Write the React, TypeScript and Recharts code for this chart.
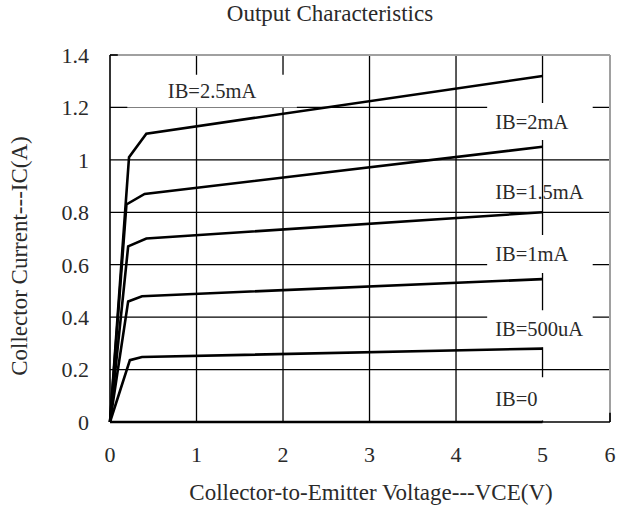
import {
  LineChart,
  Line,
  XAxis,
  YAxis,
  CartesianGrid,
  ReferenceArea,
  ReferenceLine,
} from "recharts";

// x axis of the original is squeezed past 5 V: the "6" tick sits at the frame edge
const X_MAX = 5.78;
const X_TICKS = [0, 1, 2, 3, 4, 5, X_MAX];
const X_TICK_LABELS = ["0", "1", "2", "3", "4", "5", "6"];
const Y_TICKS = [0, 0.2, 0.4, 0.6, 0.8, 1, 1.2, 1.4];
const Y_TICK_LABELS = ["0", "0.2", "0.4", "0.6", "0.8", "1", "1.2", "1.4"];

const CURVE_NAMES = ["IB=2.5mA", "IB=2mA", "IB=1.5mA", "IB=1mA", "IB=500uA", "IB=0"];

const VCE_2500 = [0, 0.22, 0.42, 5];
const IC_2500 = [0, 1.01, 1.1, 1.32];
const VCE_2000 = [0, 0.19, 0.4, 5];
const IC_2000 = [0, 0.83, 0.87, 1.05];
const VCE_1500 = [0, 0.21, 0.42, 5];
const IC_1500 = [0, 0.67, 0.7, 0.8];
const VCE_1000 = [0, 0.21, 0.37, 5];
const IC_1000 = [0, 0.46, 0.48, 0.545];
const VCE_500 = [0, 0.23, 0.37, 5];
const IC_500 = [0, 0.236, 0.248, 0.28];
const VCE_0 = [0, 5];
const IC_0 = [0, 0];

const toPoints = (vce: number[], ic: number[]) => vce.map((v, i) => ({ v, ic: ic[i] }));

const curves = [
  toPoints(VCE_2500, IC_2500),
  toPoints(VCE_2000, IC_2000),
  toPoints(VCE_1500, IC_1500),
  toPoints(VCE_1000, IC_1000),
  toPoints(VCE_500, IC_500),
  toPoints(VCE_0, IC_0),
];

// label boxes (white backgrounds hide the grid, like the original)
const labelBoxes = [
  { x1: 0.2, x2: 2.16, y1: 1.2, y2: 1.325, pos: "center", box: true },
  { x1: 4.36, x2: 5.58, y1: 1.076, y2: 1.217, pos: "insideLeft", box: true },
  { x1: 4.36, x2: 5.58, y1: 0.82, y2: 0.935, pos: "insideLeft", box: false },
  { x1: 4.36, x2: 5.58, y1: 0.568, y2: 0.713, pos: "insideLeft", box: true },
  { x1: 4.36, x2: 5.58, y1: 0.285, y2: 0.4265, pos: "insideLeft", box: true },
  { x1: 4.36, x2: 5.58, y1: 0.006, y2: 0.171, pos: "insideLeft", box: true },
];

const FONT = "'Liberation Serif', 'Times New Roman', serif";
const TEXT = "#2a2a2a";
const TITLE_FS = 23;
const TICK_FS = 22;
const LABEL_FS = 20.5;

export default function App() {
  return (
    <div
      style={{
        position: "absolute",
        left: 0,
        top: 0,
        width: 630,
        height: 512,
        background: "#fff",
        fontFamily: FONT,
        color: TEXT,
      }}
    >
      <div style={{ position: "absolute", left: 0, width: 660, top: 1, textAlign: "center", fontSize: TITLE_FS, lineHeight: "normal" }}>
        Output Characteristics
      </div>
      <div style={{ position: "absolute", left: 110, width: 522, top: 480, textAlign: "center", fontSize: TITLE_FS, lineHeight: "normal" }}>
        Collector-to-Emitter Voltage---VCE(V)
      </div>
      <div
        style={{
          position: "absolute",
          left: 20,
          top: 256,
          fontSize: TITLE_FS,
          whiteSpace: "nowrap",
          transform: "translate(-50%, -50%) rotate(-90deg)",
        }}
      >
        Collector Current---IC(A)
      </div>
      <LineChart width={630} height={512} margin={{ top: 55, right: 20, bottom: 60, left: 0 }}>
        <CartesianGrid
          stroke="#000"
          strokeWidth={1.3}
          verticalValues={[1, 2, 3, 4, 5]}
          horizontalValues={[0.2, 0.4, 0.6, 0.8, 1, 1.2]}
        />
        <XAxis
          type="number"
          dataKey="v"
          domain={[0, X_MAX]}
          ticks={X_TICKS}
          tickFormatter={(_v: number, i: number) => X_TICK_LABELS[i]}
          interval={0}
          height={30}
          tickLine={false}
          tickSize={6}
          tickMargin={18}
          axisLine={{ stroke: "#000", strokeWidth: 1.6 }}
          tick={{ fill: TEXT, fontSize: TICK_FS, fontFamily: FONT }}
        />
        <YAxis
          type="number"
          domain={[0, 1.4]}
          ticks={Y_TICKS}
          tickFormatter={(_v: number, i: number) => Y_TICK_LABELS[i]}
          interval={0}
          width={110}
          tickLine={false}
          tickSize={6}
          tickMargin={15}
          axisLine={{ stroke: "#000", strokeWidth: 1.6 }}
          tick={{ fill: TEXT, fontSize: TICK_FS, fontFamily: FONT }}
        />
        <ReferenceLine y={1.4} stroke="#a0a0a0" strokeWidth={2} />
        <ReferenceLine x={X_MAX} stroke="#a0a0a0" strokeWidth={2} />
        <ReferenceLine
          segment={[
            { x: 0, y: 1.4 },
            { x: 0.09, y: 1.4 },
          ]}
          stroke="#000"
          strokeWidth={1.6}
        />
        <ReferenceLine
          segment={[
            { x: X_MAX, y: 0 },
            { x: X_MAX, y: 0.035 },
          ]}
          stroke="#000"
          strokeWidth={1.6}
        />
        {labelBoxes.map((b, i) => (
          <ReferenceArea
            key={`box-${i}`}
            x1={b.x1}
            x2={b.x2}
            y1={b.y1}
            y2={b.y2}
            fill={b.box ? "#fff" : "none"}
            fillOpacity={b.box ? 1 : 0}
            stroke="none"
            label={{
              value: CURVE_NAMES[i],
              position: b.pos as any,
              offset: 8,
              fill: TEXT,
              fontSize: LABEL_FS,
              fontFamily: FONT,
            }}
          />
        ))}
        {curves.map((pts, i) => (
          <Line
            key={CURVE_NAMES[i]}
            data={pts}
            dataKey="ic"
            name={CURVE_NAMES[i]}
            type="linear"
            stroke="#000"
            strokeWidth={2.6}
            dot={false}
            activeDot={false}
            isAnimationActive={false}
          />
        ))}
      </LineChart>
    </div>
  );
}
